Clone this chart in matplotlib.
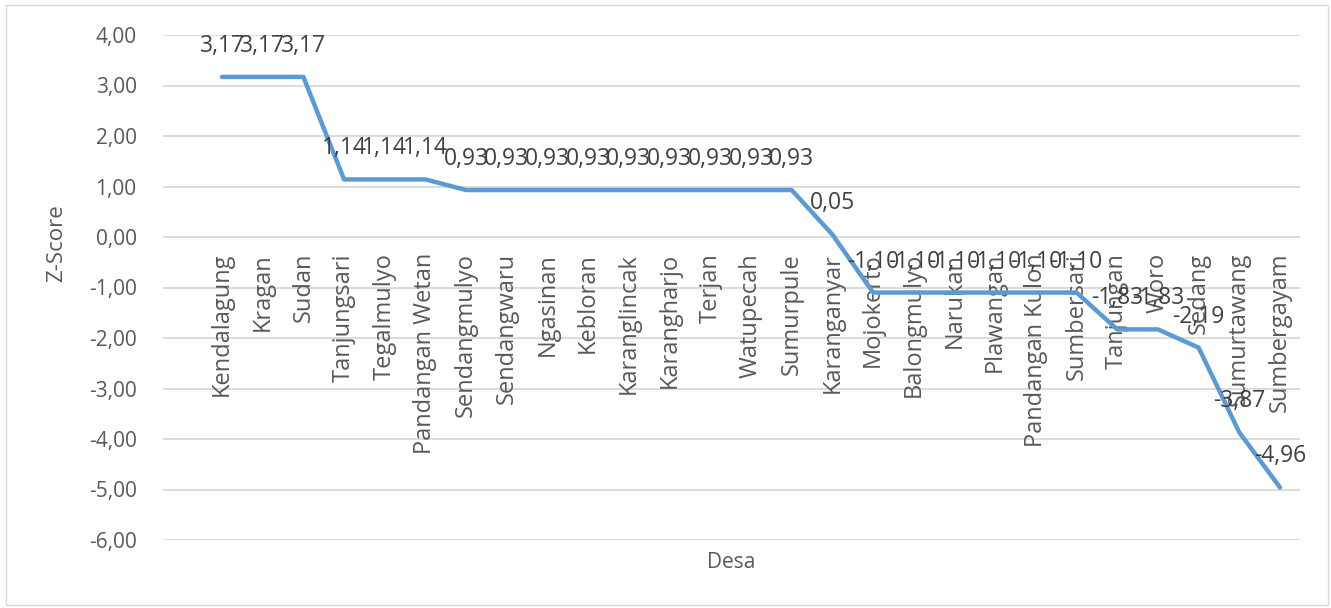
import matplotlib.pyplot as plt
from matplotlib.patches import Rectangle

plt.rcParams['font.family'] = ['Open Sans', 'DejaVu Sans']

desa = ["Kendalagung", "Kragan", "Sudan", "Tanjungsari", "Tegalmulyo",
        "Pandangan Wetan", "Sendangmulyo", "Sendangwaru", "Ngasinan",
        "Kebloran", "Karanglincak", "Karangharjo", "Terjan", "Watupecah",
        "Sumurpule", "Karanganyar", "Mojokerto", "Balongmulyo", "Narukan",
        "Plawangan", "Pandangan Kulon", "Sumbersari", "Tanjungan", "Woro",
        "Sedang", "Sumurtawang", "Sumbergayam"]
z_score = [3.17, 3.17, 3.17, 1.14, 1.14, 1.14, 0.93, 0.93, 0.93, 0.93, 0.93,
           0.93, 0.93, 0.93, 0.93, 0.05, -1.10, -1.10, -1.10, -1.10, -1.10,
           -1.10, -1.83, -1.83, -2.19, -3.87, -4.96]
y_ticks = [4, 3, 2, 1, 0, -1, -2, -3, -4, -5, -6]

W, H = 1331, 608
fig = plt.figure(figsize=(W / 100, H / 100), dpi=100)
fig.patches.append(Rectangle((6 / W, 3 / H), 1 - 9 / W, 1 - 8 / H,
                             transform=fig.transFigure, fill=False,
                             edgecolor="#d9d9d9", linewidth=1))
ax = fig.add_axes([163 / W, 1 - 540 / H, (1300 - 163) / W, (540 - 35) / H])

x = list(range(len(desa)))
ax.plot(x, z_score, color="#5b9bd5", linewidth=3.2, solid_capstyle="round",
        solid_joinstyle="round", zorder=3)

# value labels above each point
for i, v in zip(x, z_score):
    ax.annotate(f"{v:.2f}".replace(".", ","), (i, v), xytext=(0, 19),
                textcoords="offset pixels", ha="center", va="bottom",
                fontsize=16.5, color="#404040", zorder=4)

# category names hang from the zero line
for i, name in zip(x, desa):
    ax.annotate(name, (i, 0), xytext=(0, -16), textcoords="offset pixels",
                rotation=90, ha="center", va="top", fontsize=17,
                color="#595959", zorder=2)

ax.set_xlim(-59 / 40.7, len(desa) - 1 + 20 / 40.7)
ax.set_ylim(-6, 4)
ax.set_yticks(y_ticks)
ax.set_yticklabels([f"{t:.2f}".replace(".", ",") for t in y_ticks])
ax.set_xticks([])
ax.tick_params(axis="y", length=0, pad=19, labelsize=15, labelcolor="#595959")
ax.grid(axis="y", color="#d9d9d9", linewidth=1.3)
ax.set_axisbelow(True)
for s in ax.spines.values():
    s.set_visible(False)

fig.text(731 / W, 1 - 562 / H, "Desa", ha="center", va="center",
         fontsize=15, color="#595959")
fig.text(57 / W, 1 - 243 / H, "Z-Score", ha="center", va="center",
         rotation=90, fontsize=16, color="#595959")

fig.savefig("out.png", dpi=100)
